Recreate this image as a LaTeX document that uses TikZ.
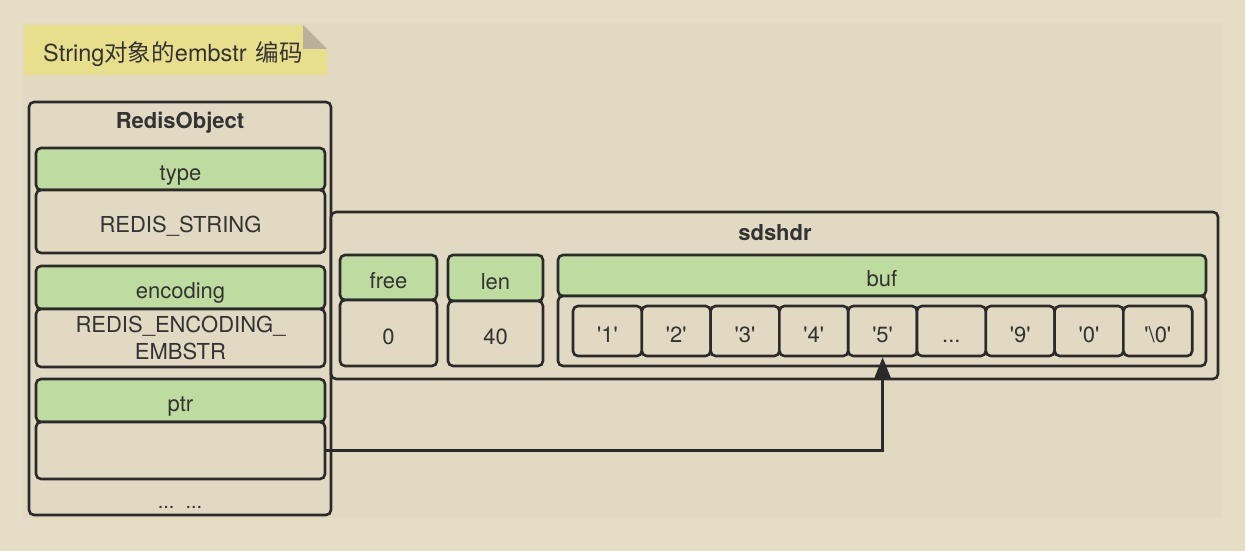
\documentclass[tikz,border=0pt]{standalone}
\usepackage{fontspec}
\setmainfont{TeX Gyre Heros}
\newfontfamily\cjk{Noto Sans CJK SC}
\usetikzlibrary{arrows.meta}
\definecolor{bgout}{HTML}{E6DDC5}
\definecolor{bgin}{HTML}{E1D9C2}
\definecolor{noteyel}{HTML}{E8DF8C}
\definecolor{notefold}{HTML}{B9AF9A}
\definecolor{grn}{HTML}{BFDCA0}
\definecolor{ink}{HTML}{2A2A2A}
\definecolor{txt}{HTML}{333333}
\newcommand\sq{\textquotesingle}
\tikzset{
  base/.style={draw=ink, line width=2.6pt, rounded corners=5pt, inner sep=0pt, text=txt,
    font=\fontsize{22}{26.6}\selectfont, align=center, text height=22pt, text depth=0pt},
  greenbox/.style={base, fill=grn},
  plainbox/.style={base, fill=bgin},
  outerbox/.style={base, fill=bgin},
  titletext/.style={text=txt, font=\fontsize{22}{26}\selectfont\bfseries, inner sep=0pt, anchor=base},
  cellbox/.style={base, fill=bgin, minimum width=68.8, minimum height=50},
  link/.style={draw=ink, line width=2.4pt, -{Triangle[length=22pt,width=17pt]}}
}
\begin{document}
\begin{tikzpicture}[x=1pt,y=-1pt]
\useasboundingbox (0,0) rectangle (1245,551);
\fill[bgout] (0,0) rectangle (1245,551);
\fill[bgin] (23,23) rectangle (1222,518);
% note
\fill[noteyel] (24,25) -- (303,25) -- (327,49) -- (327,75) -- (24,75) -- cycle;
\fill[notefold] (303,25) -- (327,49) -- (303,49) -- cycle;
\node[anchor=base west, text=txt, font=\fontsize{23.5}{26}\selectfont, inner sep=0pt] (note) at (43,62) {String{\cjk 对象的}embstr\hspace{9pt}{\cjk 编码}};
% RedisObject
\node[outerbox, minimum width=302, minimum height=413] (ro) at (180,308.5) {};
\node[titletext] (rot) at (180,128.3) {RedisObject};
\node[greenbox, minimum width=289, minimum height=42] (type) at (180.5,169) {type};
\node[plainbox, minimum width=289, minimum height=63] (typev) at (180.5,221.5) {REDIS\_STRING};
\node[greenbox, minimum width=289, minimum height=43] (enc) at (180.5,287.5) {encoding};
\node[plainbox, minimum width=289, minimum height=58, text height=, text depth=] (encv) at (180.5,338) {REDIS\_ENCODING\_\\EMBSTR};
\node[greenbox, minimum width=289, minimum height=43] (ptr) at (180.5,400.5) {ptr};
\node[plainbox, minimum width=289, minimum height=57] (ptrv) at (180.5,450.5) {};
\node[text=txt, font=\fontsize{20}{22}\selectfont, inner sep=0pt, anchor=base] (rodots) at (180,508) {...\ \ ...};
% sdshdr
\node[outerbox, minimum width=887, minimum height=167] (sds) at (774.5,295.5) {};
\node[titletext] (sdst) at (775,240.5) {sdshdr};
\node[greenbox, minimum width=97, minimum height=45] (free) at (388.5,277.5) {free};
\node[plainbox, minimum width=97, minimum height=66] (freev) at (388.5,333) {0};
\node[greenbox, minimum width=95, minimum height=46] (len) at (495.5,278) {len};
\node[plainbox, minimum width=95, minimum height=65] (lenv) at (495.5,333.5) {40};
\node[greenbox, minimum width=648, minimum height=41] (buf) at (882,275.5) {buf};
\node[plainbox, minimum width=648, minimum height=70] (bufv) at (882,331) {};
\node[cellbox] (c0) at (607.4,331) {\sq1\sq};
\node[cellbox] (c1) at (676.2,331) {\sq2\sq};
\node[cellbox] (c2) at (745.0,331) {\sq3\sq};
\node[cellbox] (c3) at (813.8,331) {\sq4\sq};
\node[cellbox] (c4) at (882.6,331) {\sq5\sq};
\node[cellbox] (c5) at (951.4,331) {...};
\node[cellbox] (c6) at (1020.2,331) {\sq9\sq};
\node[cellbox] (c7) at (1089.0,331) {\sq0\sq};
\node[cellbox] (c8) at (1157.8,331) {\sq\textbackslash 0\sq};
% pointer
\draw[link] (ptrv.east) -| (c4.south);
\end{tikzpicture}
\end{document}
